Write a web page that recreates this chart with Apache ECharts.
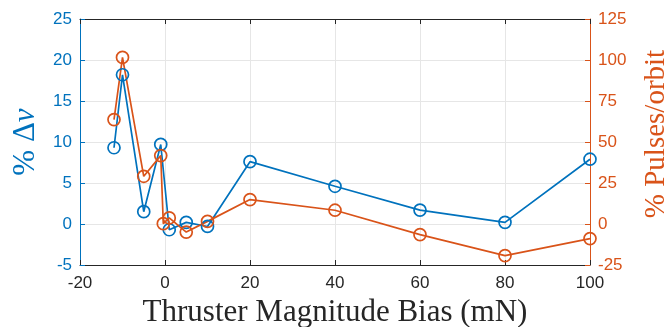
<!DOCTYPE html>
<html><head><meta charset="utf-8">
<script src="https://cdn.jsdelivr.net/npm/echarts@6/dist/echarts.min.js"></script>
<style>html,body{margin:0;padding:0;background:#fff}#c{width:664px;height:327px}</style>
</head><body><div id="c"></div>
<script>
const xTicks = [-20, 0, 20, 40, 60, 80, 100];
const leftTicks = [-5, 0, 5, 10, 15, 20, 25];
const rightTicks = [-25, 0, 25, 50, 75, 100, 125];
const dvX = [-12, -10, -5, -1, 1, 5, 10, 20, 40, 60, 80, 100];
const dvY = [9.3, 18.2, 1.5, 9.7, -0.7, 0.2, -0.3, 7.6, 4.6, 1.7, 0.2, 7.9];
const pulseX = [-12, -10, -5, -1, -0.4, 1, 5, 10, 20, 40, 60, 80, 100];
const pulseY = [63.7, 101.6, 29.1, 41.7, 0.2, 3.7, -4.9, 1.6, 14.9, 8.4, -6.5, -19.3, -8.9];

const blue = '#0072BD', orange = '#D95319', dark = '#262626';
const chart = echarts.init(document.getElementById('c'));
const tickFont = {fontFamily: 'Liberation Sans', fontSize: 17};
chart.setOption({
  animation: false,
  grid: {left: 80, right: 74, top: 19, bottom: 62, show: false, containLabel: false, outerBoundsMode: 'none'},
  xAxis: [{
    type: 'value', min: xTicks[0], max: xTicks[xTicks.length-1], interval: 20,
    axisLine: {onZero: false, lineStyle: {color: dark, width: 1}},
    axisTick: {inside: true, length: 5, lineStyle: {color: dark}},
    axisLabel: Object.assign({color: dark, margin: 10}, tickFont),
    splitLine: {show: true, lineStyle: {color: '#e6e6e6', width: 1}},
    name: 'Thruster Magnitude Bias (mN)', nameLocation: 'middle', nameGap: 30,
    nameTextStyle: {fontFamily: 'Liberation Serif', fontSize: 31, color: dark}
  }, {
    type: 'value', position: 'top', min: -20, max: 100, interval: 20,
    axisLine: {show: true, onZero: false, lineStyle: {color: dark, width: 1}},
    axisTick: {show: true, inside: true, length: 5, lineStyle: {color: dark}},
    axisLabel: {show: false}, splitLine: {show: false}
  }],
  yAxis: [{
    type: 'value', min: leftTicks[0], max: leftTicks[leftTicks.length-1], interval: 5,
    axisLine: {show: true, onZero: false, lineStyle: {color: blue, width: 1}},
    axisTick: {show: true, inside: true, length: 5, lineStyle: {color: blue}},
    axisLabel: Object.assign({color: blue, margin: 8}, tickFont),
    splitLine: {show: true, lineStyle: {color: '#e6e6e6', width: 1}},
    name: '{a|% Δ}{b|v}', nameLocation: 'middle', nameGap: 39, nameRotate: 90,
    nameTextStyle: {rich: {
      a: {fontFamily: 'Liberation Serif', fontSize: 31, color: blue},
      b: {fontFamily: 'Liberation Serif', fontStyle: 'italic', fontSize: 31, color: blue}
    }}
  }, {
    type: 'value', position: 'right', min: rightTicks[0], max: rightTicks[rightTicks.length-1], interval: 25,
    axisLine: {show: true, onZero: false, lineStyle: {color: orange, width: 1}},
    axisTick: {show: true, inside: true, length: 5, lineStyle: {color: orange}},
    axisLabel: Object.assign({color: orange, margin: 8}, tickFont),
    splitLine: {show: false},
    name: '% Pulses/orbit', nameLocation: 'middle', nameGap: 52, nameRotate: 90,
    nameTextStyle: {fontFamily: 'Liberation Serif', fontSize: 29, color: orange, padding: [0, 0, 0, 16]}
  }],
  series: [{
    type: 'line', xAxisIndex: 0, yAxisIndex: 0,
    data: dvX.map((x, i) => [x, dvY[i]]),
    symbol: 'circle', symbolSize: 12, showAllSymbol: true,
    lineStyle: {color: blue, width: 1.7},
    itemStyle: {color: 'rgba(0,0,0,0)', borderColor: blue, borderWidth: 1.7}
  }, {
    type: 'line', xAxisIndex: 0, yAxisIndex: 1,
    data: pulseX.map((x, i) => [x, pulseY[i]]),
    symbol: 'circle', symbolSize: 12, showAllSymbol: true,
    lineStyle: {color: orange, width: 1.7},
    itemStyle: {color: 'rgba(0,0,0,0)', borderColor: orange, borderWidth: 1.7}
  }]
});
</script></body></html>
